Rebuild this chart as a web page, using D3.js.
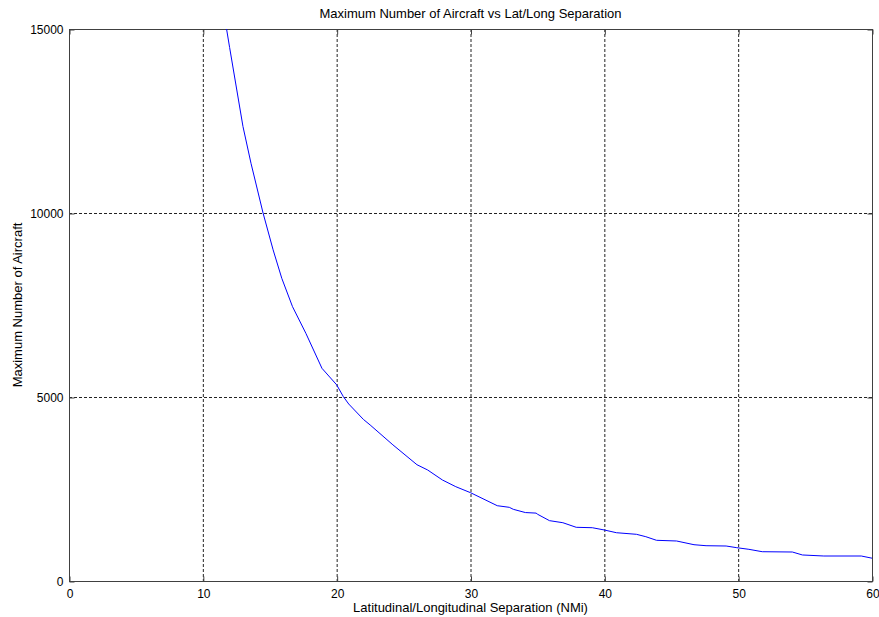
<!DOCTYPE html>
<html><head><meta charset="utf-8">
<script src="https://cdn.jsdelivr.net/npm/d3@7"></script>
<style>body{margin:0;background:#fff}svg{display:block}text{font-family:"Liberation Sans",Arial,sans-serif;fill:#000}</style>
</head><body>
<script>
const separation = [11.5,12,13,13.6,14.5,15.25,15.9,16.7,17.7,18.9,20,20.5,20.9,22,22.5,24.2,26,26.8,27.9,28.9,30,32,32.9,33.2,34.1,34.9,35.02,35.9,36.9,37.9,39.1,40,40.9,42.4,43.1,43.9,45.4,46.7,47.6,49.1,49.9,50.8,51.8,54.05,54.8,56.4,59.2,60];
const maxAircraft = [15600,14500,12350,11350,10000,9000,8225,7455,6730,5780,5330,5010,4810,4390,4240,3700,3160,3016,2745,2563,2400,2046,2002,1948,1860,1845,1812,1640,1584,1459,1448,1386,1312,1269,1204,1106,1087,986,959,951,905,861,796,788,707,679,679,620];
const xTicks = [0,10,20,30,40,50,60];
const yTicks = [0,5000,10000,15000];
const title = "Maximum Number of Aircraft vs Lat/Long Separation";
const xLabel = "Latitudinal/Longitudinal Separation (NMi)";
const yLabel = "Maximum Number of Aircraft";

const W=879,H=617, L=69,R=872,T=29,B=581;
const svg=d3.select("body").append("svg").attr("width",W).attr("height",H);
const x=d3.scaleLinear().domain([0,60]).range([L,R]);
const y=d3.scaleLinear().domain([0,15000]).range([B,T]);

svg.append("defs").append("clipPath").attr("id","c").append("rect")
  .attr("x",L).attr("y",T).attr("width",R-L).attr("height",B-T);

// grid
const g=svg.append("g");
xTicks.filter(d=>d>0&&d<60).forEach(d=>{
  g.append("line").attr("x1",x(d)+0.5).attr("x2",x(d)+0.5).attr("y1",T).attr("y2",B)
   .attr("stroke","#222").attr("stroke-dasharray","3,2").attr("stroke-width",1);
});
yTicks.filter(d=>d>0&&d<15000).forEach(d=>{
  g.append("line").attr("x1",L).attr("x2",R).attr("y1",Math.round(y(d))+0.5).attr("y2",Math.round(y(d))+0.5)
   .attr("stroke","#222").attr("stroke-dasharray","3,2").attr("stroke-width",1);
});

// box
svg.append("rect").attr("x",L+0.5).attr("y",T+0.5).attr("width",R-L).attr("height",B-T)
  .attr("fill","none").attr("stroke","#404040").attr("stroke-width",1);

// axes (ticks inward)
const xa=svg.append("g").attr("transform",`translate(0.5,${B+0.5})`)
  .call(d3.axisBottom(x).tickValues(xTicks).tickSizeInner(-5).tickSizeOuter(0).tickPadding(6).tickFormat(d3.format("d")));
const xt=svg.append("g").attr("transform",`translate(0.5,${T+0.5})`)
  .call(d3.axisTop(x).tickValues(xTicks).tickSizeInner(-5).tickSizeOuter(0).tickFormat(""));
const ya=svg.append("g").attr("transform",`translate(${L+0.5},0.5)`)
  .call(d3.axisLeft(y).tickValues(yTicks).tickSizeInner(-5).tickSizeOuter(0).tickPadding(6).tickFormat(d3.format("d")));
const yr=svg.append("g").attr("transform",`translate(${R+0.5},0.5)`)
  .call(d3.axisRight(y).tickValues(yTicks).tickSizeInner(-5).tickSizeOuter(0).tickFormat(""));
[xa,xt,ya,yr].forEach(a=>{a.select(".domain").remove();a.selectAll("line").attr("stroke","#404040");
  a.selectAll("text").style("font-size","12px").style("font-family","'Liberation Sans',Arial,sans-serif").attr("fill","#000");});
xa.selectAll("text").attr("dy","0.85em");

// line
svg.append("path").datum(separation.map((s,i)=>[s,maxAircraft[i]]))
  .attr("clip-path","url(#c)")
  .attr("fill","none").attr("stroke","#0000ff").attr("stroke-width",1)
  .attr("d",d3.line().x(d=>x(d[0])).y(d=>y(d[1])));

svg.append("text").attr("x",(L+R)/2).attr("y",18).attr("text-anchor","middle").style("font-size","13px").text(title);
svg.append("text").attr("x",(L+R)/2).attr("y",612).attr("text-anchor","middle").style("font-size","13px").text(xLabel);
svg.append("text").attr("transform",`translate(22,${(T+B)/2}) rotate(-90)`).attr("text-anchor","middle").style("font-size","13px").text(yLabel);
</script>
</body></html>
